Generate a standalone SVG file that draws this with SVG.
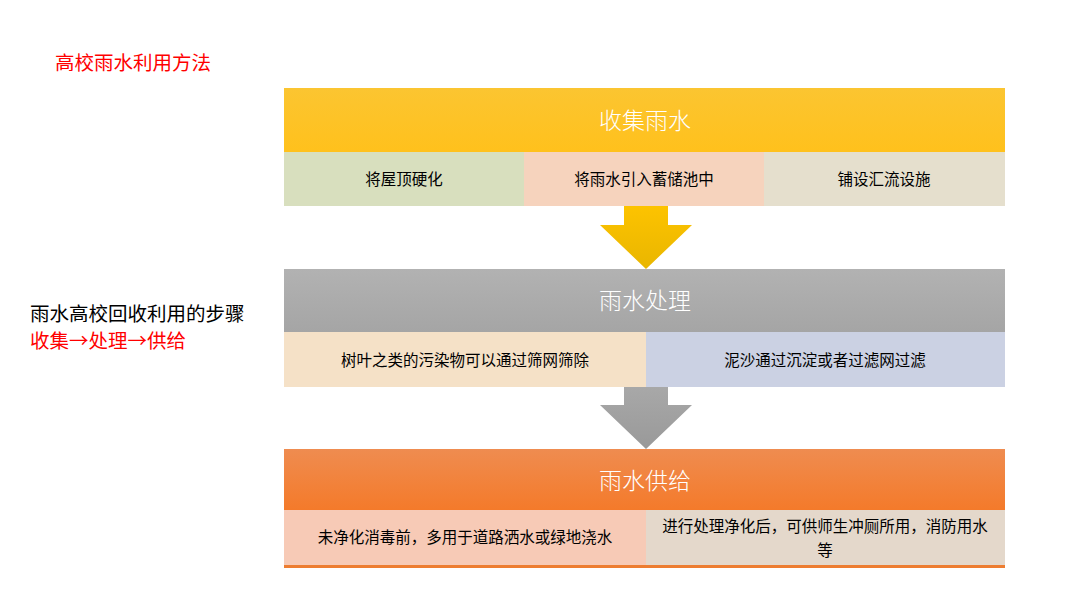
<svg xmlns="http://www.w3.org/2000/svg" width="1080" height="607" viewBox="0 0 1080 607">
<defs>
<linearGradient id="gY" x1="0" y1="0" x2="0" y2="1"><stop offset="0" stop-color="#fbc531"/><stop offset="1" stop-color="#ffc11c"/></linearGradient>
<linearGradient id="gG" x1="0" y1="0" x2="0" y2="1"><stop offset="0" stop-color="#b2b2b2"/><stop offset="1" stop-color="#a5a5a5"/></linearGradient>
<linearGradient id="gO" x1="0" y1="0" x2="0" y2="1"><stop offset="0" stop-color="#ef8c50"/><stop offset="1" stop-color="#f47a2a"/></linearGradient>
<linearGradient id="aY" x1="0" y1="0" x2="0" y2="1"><stop offset="0" stop-color="#fdc300"/><stop offset="1" stop-color="#e9b600"/></linearGradient>
<linearGradient id="aG" x1="0" y1="0" x2="0" y2="1"><stop offset="0" stop-color="#a8a8a8"/><stop offset="1" stop-color="#999999"/></linearGradient>
</defs>
<style>
text{font-family:"Microsoft YaHei","Noto Sans CJK SC","Noto Sans",sans-serif;}
.h{fill:#ffffff;font-size:23px;text-anchor:middle;font-weight:300;}
.s{fill:#000000;font-size:15.5px;text-anchor:middle;}
.red{fill:#ff0000;font-size:19.5px;}
.blk{fill:#000000;font-size:19.5px;}
</style>
<rect width="1080" height="607" fill="#ffffff"/>
<g id="titles">
<text class="red" x="55" y="70">高校雨水利用方法</text>
<text class="blk" x="30" y="321">雨水高校回收利用的步骤</text>
<text class="red" x="30" y="348">收集→处理→供给</text>
</g>
<g id="connectors">
<polygon points="624,206 668,206 668,225 692,225 646,269 600,225 624,225" fill="url(#aY)"/>
<polygon points="624,387 668,387 668,405 692,405 646,449 600,405 624,405" fill="url(#aG)"/>
</g>
<g id="collect">
<rect x="284" y="88" width="721" height="64" fill="url(#gY)"/>
<text class="h" x="645" y="129">收集雨水</text>
<rect x="284" y="152" width="240" height="54" fill="#d8dfbe"/>
<rect x="524" y="152" width="240" height="54" fill="#f6d3bd"/>
<rect x="764" y="152" width="241" height="54" fill="#e5dfcd"/>
<text class="s" x="404" y="185">将屋顶硬化</text>
<text class="s" x="644" y="185">将雨水引入蓄储池中</text>
<text class="s" x="884" y="185">铺设汇流设施</text>
</g>
<g id="process">
<rect x="284" y="269" width="721" height="63" fill="url(#gG)"/>
<text class="h" x="645" y="309">雨水处理</text>
<rect x="284" y="332" width="362" height="55" fill="#f5e1c7"/>
<rect x="646" y="332" width="359" height="55" fill="#cbd1e3"/>
<text class="s" x="465" y="366">树叶之类的污染物可以通过筛网筛除</text>
<text class="s" x="825" y="366">泥沙通过沉淀或者过滤网过滤</text>
</g>
<g id="supply">
<rect x="284" y="449" width="721" height="61" fill="url(#gO)"/>
<text class="h" x="645" y="489">雨水供给</text>
<rect x="284" y="510" width="362" height="55" fill="#f7cab6"/>
<rect x="646" y="510" width="359" height="55" fill="#e4d8cb"/>
<rect x="284" y="565" width="721" height="3" fill="#ed7d31"/>
<text class="s" x="465" y="543">未净化消毒前，多用于道路洒水或绿地浇水</text>
<text class="s" x="825" y="532">进行处理净化后，可供师生冲厕所用，消防用水</text>
<text class="s" x="825" y="556">等</text>
</g>
</svg>
